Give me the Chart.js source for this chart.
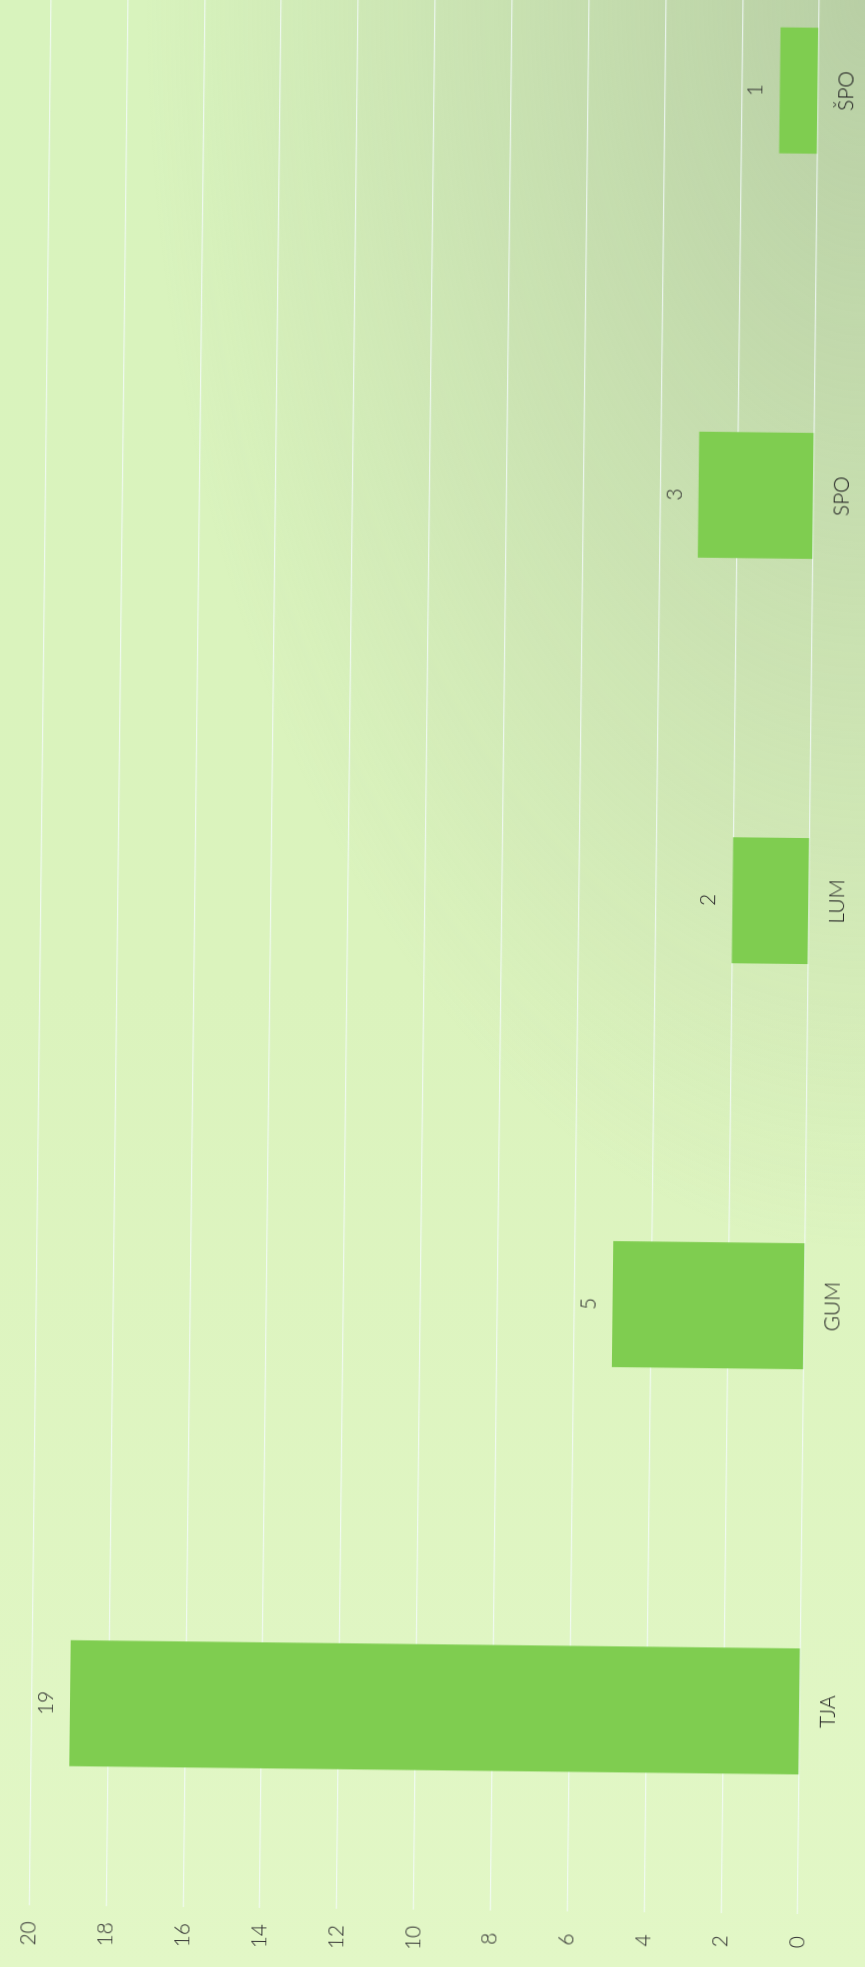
<!DOCTYPE html>
<html><head><meta charset="utf-8">
<script src="https://cdn.jsdelivr.net/npm/chart.js@4"></script>
<style>
html,body{margin:0;padding:0;width:865px;height:1967px;overflow:hidden;}
body{background:
  radial-gradient(ellipse 720px 1250px at 100% 0%, rgba(165,185,150,0.62), rgba(165,185,150,0) 100%),
  linear-gradient(to bottom, #d8f3bd 0%, #dbf3bd 50%, #e2f7c6 100%);}
#wrap{position:absolute;left:0;top:0;width:2088px;height:865px;transform-origin:0 0;transform:translate(0px,1967px) rotate(-89.35deg);}
canvas{display:block;}
</style></head>
<body><div id="wrap"><canvas id="c" width="2088" height="865"></canvas></div>
<script>
const categories = ['TJA', 'GUM', 'LUM', 'SPO', 'ŠPO'];
const values = [19, 5, 2, 3, 1];
const valueMin = 0;
const valueMax = 20;
const valueStep = 2;

const FONT = 'Lato, "Open Sans", sans-serif';

const valueLabels = {
  id: 'valueLabels',
  afterDatasetsDraw(chart) {
    const ctx = chart.ctx;
    const meta = chart.getDatasetMeta(0);
    ctx.save();
    ctx.font = '300 21px ' + FONT;
    ctx.fillStyle = '#2e2e2e';
    ctx.textAlign = 'center';
    ctx.textBaseline = 'middle';
    meta.data.forEach((bar, i) => {
      ctx.fillText(String(values[i]), bar.x, bar.y - 24);
    });
    ctx.restore();
  }
};

new Chart(document.getElementById('c'), {
  type: 'bar',
  data: {
    labels: categories,
    datasets: [{
      data: values,
      backgroundColor: '#7fcd50',
      borderWidth: 0,
      categoryPercentage: 1,
      barPercentage: 0.311
    }]
  },
  options: {
    responsive: false,
    animation: false,
    devicePixelRatio: 1,
    layout: { padding: { top: 19.5, left: 0, right: 0, bottom: 0 } },
    plugins: { legend: { display: false }, tooltip: { enabled: false } },
    scales: {
      x: {
        grid: { display: false, drawTicks: false },
        border: { display: false },
        ticks: { padding: 16, color: '#222', font: { family: FONT, size: 21, weight: '300' } },
        afterFit(scale) { scale.height = 68; }
      },
      y: {
        min: valueMin, max: valueMax,
        grid: { color: 'rgba(245,252,255,0.75)', lineWidth: 1.3, drawTicks: false },
        border: { display: false },
        ticks: { stepSize: valueStep, padding: 16, crossAlign: 'center', color: '#333', font: { family: FONT, size: 21, weight: '300' } },
        afterFit(scale) { scale.width = 62; }
      }
    }
  },
  plugins: [valueLabels]
});
</script>
</body></html>
